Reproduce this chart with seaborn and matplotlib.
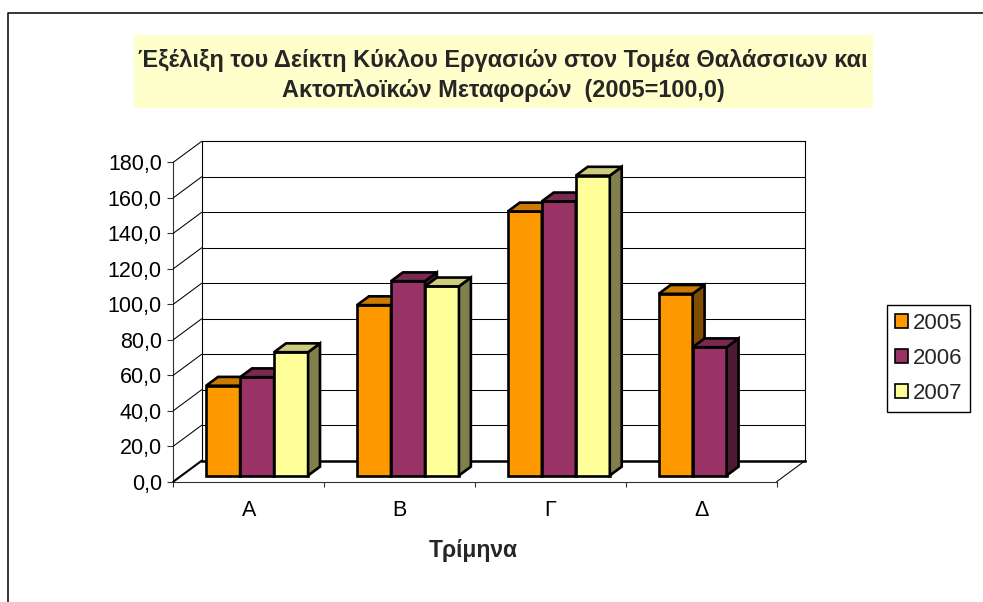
import numpy as np
import pandas as pd
import matplotlib
matplotlib.use("Agg")
import matplotlib.pyplot as plt
import seaborn as sns
from matplotlib.patches import Polygon, Rectangle, Patch
from matplotlib.lines import Line2D
from matplotlib.colors import to_rgb

# ---------------- data ----------------
quarters = ["Α", "Β", "Γ", "Δ"]
years = ["2005", "2006", "2007"]
v2005 = [50.6, 96.0, 148.8, 102.4]
v2006 = [55.4, 109.5, 154.5, 72.3]
v2007 = [69.5, 106.6, 169.0, np.nan]
colors = ["#FF9900", "#993366", "#FFFF99"]
title_lines = ["Έξέλιξη του Δείκτη Κύκλου Εργασιών στον Τομέα Θαλάσσιων και",
               "Ακτοπλοϊκών Μεταφορών  (2005=100,0)"]
x_title = "Τρίμηνα"
yticks = list(range(0, 181, 20))
ytick_labels = [f"{v:.1f}".replace(".", ",") for v in yticks]

df = pd.DataFrame({
    "quarter": quarters * 3,
    "year": np.repeat(years, len(quarters)),
    "value": v2005 + v2006 + v2007,
})

sns.set_theme(style="white")
plt.rcParams['font.family'] = ['Liberation Sans', 'DejaVu Sans']

W_PX, H_PX = 983, 602
fig = plt.figure(figsize=(W_PX / 100, H_PX / 100), dpi=100)
fig.patch.set_facecolor("white")


def fig_rect(x0, row0, w, h):
    return [x0 / W_PX, (H_PX - row0) / H_PX, w / W_PX, h / H_PX]


FX, FY = 173.3, 481.7      # front origin (px)
PW, PH = 603.4, 319.4      # plot width / height (px)
DX, DY = 28.4, 21.0        # floor depth (px)
BF = 0.295                 # bar plane depth fraction
BD = 0.42                  # bar depth fraction
FS = 15.5
BLW = 1.9

ax_back = fig.add_axes(fig_rect(FX + DX, FY - DY, PW, PH))
ax_front = fig.add_axes(fig_rect(FX, FY, PW, PH))
ax = fig.add_axes(fig_rect(FX + BF * DX, FY - BF * DY, PW, PH))
for a in (ax_back, ax_front, ax):
    a.set_xlim(-0.5, 3.5)
    a.set_ylim(0, 180)
    a.patch.set_visible(False)

# ---- back wall ----
for s in ["left", "right", "top"]:
    ax_back.spines[s].set_visible(True)
    ax_back.spines[s].set_color("black")
    ax_back.spines[s].set_linewidth(0.8)
ax_back.spines["bottom"].set_color("black")
ax_back.spines["bottom"].set_linewidth(1.8)
ax_back.set_xticks([])
ax_back.set_yticks([])
for v in yticks[1:-1]:
    ax_back.axhline(v, color="black", lw=0.75)

# ---- front axes ----
for s in ["top", "right"]:
    ax_front.spines[s].set_visible(False)
for s in ["left", "bottom"]:
    ax_front.spines[s].set_color("#333333")
    ax_front.spines[s].set_linewidth(0.8)
ax_front.set_yticks(yticks, ytick_labels)
ax_front.set_xticks([-0.5, 0.5, 1.5, 2.5, 3.5], [""] * 5)
ax_front.set_xticks([0, 1, 2, 3], quarters, minor=True)
ax_front.tick_params(axis="y", direction="out", length=4.3, width=0.8,
                     color="#333333", pad=4, labelsize=FS, labelcolor="black", left=True)
ax_front.tick_params(axis="x", which="major", direction="out", length=3.6,
                     width=0.8, color="#333333", bottom=True)
ax_front.tick_params(axis="x", which="minor", length=0, pad=13,
                     labelsize=FS, labelcolor="black")
ax_front.set_xlabel("")
ax_front.set_ylabel("")

# ---- diagonal depth lines (side wall + floor) ----
inv = fig.transFigure.inverted()


def depth_line(x, v, lw):
    p0 = inv.transform(ax_front.transData.transform((x, v)))
    p1 = inv.transform(ax_back.transData.transform((x, v)))
    fig.add_artist(Line2D([p0[0], p1[0]], [p0[1], p1[1]],
                          transform=fig.transFigure, color="black", lw=lw))


for v in yticks:
    depth_line(-0.5, v, 1.5 if v == 0 else 0.75)
depth_line(3.5, 0, 0.75)

# ---- bars ----
sns.barplot(data=df, x="quarter", y="value", hue="year", order=quarters,
            hue_order=years, palette=colors, width=0.676, saturation=1,
            edgecolor="black", linewidth=BLW, errorbar=None, legend=False, ax=ax)
ax.set_xlim(-0.5, 3.5)
ax.set_ylim(0, 180)
ax.set_xlabel("")
ax.set_ylabel("")
ax.set_xticks([])
ax.set_yticks([])
for s in ax.spines.values():
    s.set_visible(False)

ppx = PW / 4.0
ppy = PH / 180.0
ddx = BD * DX / ppx
ddy = BD * DY / ppy

bars = [p for p in ax.patches if isinstance(p, Rectangle)
        and np.isfinite(p.get_height()) and p.get_height() > 0]
bars.sort(key=lambda p: p.get_x())
for i, p in enumerate(bars):
    z = 3 + i * 0.01
    p.set_zorder(z)
    p.set_clip_on(False)
    p.set_joinstyle("miter")
    x0, y0, w, h = p.get_x(), p.get_y(), p.get_width(), p.get_height()
    fc = np.array(to_rgb(p.get_facecolor()))
    top = Polygon([(x0, y0 + h), (x0 + w, y0 + h), (x0 + w + ddx, y0 + h + ddy),
                   (x0 + ddx, y0 + h + ddy)], closed=True, facecolor=fc * 0.8,
                  edgecolor="black", lw=BLW, zorder=z + 0.002, clip_on=False,
                  joinstyle="miter")
    side = Polygon([(x0 + w, y0), (x0 + w + ddx, y0 + ddy),
                    (x0 + w + ddx, y0 + h + ddy), (x0 + w, y0 + h)], closed=True,
                   facecolor=fc * 0.5, edgecolor="black", lw=BLW, zorder=z + 0.001,
                   clip_on=False, joinstyle="miter")
    ax.add_patch(side)
    ax.add_patch(top)

# ---- legend ----
handles = [Patch(facecolor=c, edgecolor="black", lw=1.2, label=y)
           for c, y in zip(colors, years)]
leg = fig.legend(handles=handles, loc="upper left",
                 bbox_to_anchor=(887 / W_PX, 1 - 305 / H_PX), frameon=True,
                 fancybox=False, edgecolor="black", framealpha=1, fontsize=16,
                 handlelength=0.6, handleheight=0.6, handletextpad=0.2,
                 labelspacing=0.62, borderpad=0.36, borderaxespad=0)
leg.get_frame().set_linewidth(1.0)

# ---- title ----
fig.add_artist(Rectangle((134 / W_PX, 1 - 108 / H_PX), (873.3 - 134) / W_PX,
                         (108 - 34.7) / H_PX, transform=fig.transFigure,
                         facecolor="#FFFFCC", edgecolor="none", zorder=0))
fig.text(503 / W_PX, 1 - 67.3 / H_PX, title_lines[0], ha="center", va="baseline",
         fontsize=16.9, fontweight="bold")
fig.text(503 / W_PX, 1 - 97.3 / H_PX, title_lines[1], ha="center", va="baseline",
         fontsize=16.9, fontweight="bold")

# ---- x title ----
fig.text(473 / W_PX, 1 - 556.7 / H_PX, x_title, ha="center", va="baseline",
         fontsize=16.5, fontweight="bold")

# ---- page border ----
fig.add_artist(Line2D([8.3 / W_PX, 8.3 / W_PX, 1.0],
                      [0.0, 1 - 13.3 / H_PX, 1 - 13.3 / H_PX],
                      transform=fig.transFigure, color="black", lw=1.1))

fig.savefig("out.png", dpi=100)
